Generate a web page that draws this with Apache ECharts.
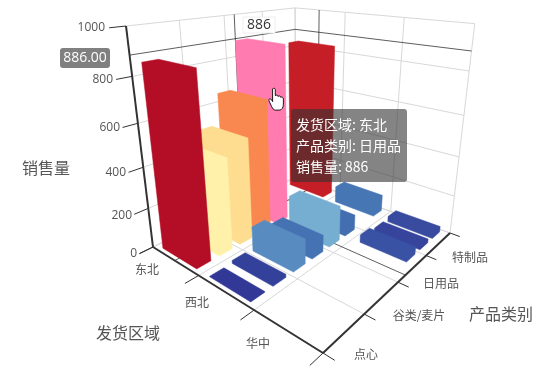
<!DOCTYPE html>
<html><head><meta charset="utf-8">
<style>html,body{margin:0;padding:0;background:#fff}#c{width:560px;height:387px}</style>
<script src="https://cdn.jsdelivr.net/npm/echarts@6/dist/echarts.min.js"></script></head>
<body><div id="c"></div>
<script>
const regions = ['东北','西北','华中'];
const products = ['点心','调味品','谷类/麦片','海鲜','日用品','肉/家禽','特制品','饮料'];
const valueTicks = [0,200,400,600,800,1000];
const eastNorth = [860,450,505,655,886,null,null,830];
const westNorth = [3,15,125,85,180,80,null,90];
const central = [null,null,null,null,null,40,20,30];
const salesByRegion = [eastNorth, westNorth, central];
const axisNames = {x:'发货区域', y:'产品类别', z:'销售量'};
const palette = ['#313695','#4575b4','#74add1','#abd9e9','#f8f8d0','#fff3ad','#fdd484','#fa9a58','#f46d43','#d73027','#a50026'];

// camera: image of the floor corners and the vertical vanishing point
const cam = {A:[153,247],B:[323,353],C:[450,233],D:[296,177],V:[303,1475],topY:26};
function quad(a,b,c,d){
  const dx1=b[0]-c[0],dx2=d[0]-c[0],sx=a[0]-b[0]+c[0]-d[0];
  const dy1=b[1]-c[1],dy2=d[1]-c[1],sy=a[1]-b[1]+c[1]-d[1];
  const det=dx1*dy2-dx2*dy1;
  const g=(sx*dy2-dx2*sy)/det,h=(dx1*sy-sx*dy1)/det;
  return [[b[0]-a[0]+g*b[0],d[0]-a[0]+h*d[0],a[0]],[b[1]-a[1]+g*b[1],d[1]-a[1]+h*d[1],a[1]],[g,h,1]];
}
const H=quad(cam.A,cam.B,cam.C,cam.D);
const k=(H[1][2]-cam.topY*H[2][2])/(cam.topY-cam.V[1]);
function proj(x,y,z){
  const X=H[0][0]*x+H[0][1]*y+H[0][2]+k*z*cam.V[0];
  const Y=H[1][0]*x+H[1][1]*y+H[1][2]+k*z*cam.V[1];
  const W=H[2][0]*x+H[2][1]*y+H[2][2]+k*z;
  return [X/W,Y/W];
}
const nx=regions.length, ny=products.length, zMax=1000;
const FILL_X=0.74, FILL_Y=0.62;

// bars, painted far to near
const barData=[];
regions.forEach((r,i)=>{
  for(let j=ny-1;j>=0;j--){
    const v=salesByRegion[i][j];
    if(v!=null) barData.push([i,j,v,v]);
  }
});
function renderBar(params,api){
  const i=api.value(0),j=api.value(1),v=api.value(2);
  const hi=(i===0&&j===4);
  const color=hi?'#ff7bb0':api.visual('color');
  const x0=(i+(1-FILL_X)/2)/nx,x1=(i+1-(1-FILL_X)/2)/nx;
  const y0=(j+(1-FILL_Y)/2)/ny,y1=(j+1-(1-FILL_Y)/2)/ny;
  const z=v/zMax;
  const p=proj;
  return {type:'polygon',shape:{points:[p(x0,y0,0),p(x1,y0,0),p(x1,y1,0),p(x1,y1,z),p(x0,y1,z),p(x0,y0,z)]},style:{fill:color,stroke:color,lineWidth:0.5}};
}
// walls and floor grid
const gridLines=[];
valueTicks.forEach(t=>{const z=t/zMax;
  gridLines.push([[0,0,z],[0,1,z]],[[0,1,z],[1,1,z]]);});
for(let i=0;i<=nx;i++)gridLines.push([[i/nx,0,0],[i/nx,1,0]],[[i/nx,1,0],[i/nx,1,1]]);
for(let j=0;j<=ny;j+=2)gridLines.push([[0,j/ny,0],[1,j/ny,0]],[[0,j/ny,0],[0,j/ny,1]]);
const dark='#333';
const axisLines=[
  [[0,0,0],[0,0,1]],[[0,0,0],[1,0,0]],[[1,0,0],[1,1,0]]
];
const ticks=[];
valueTicks.forEach(t=>ticks.push([[0,0,t/zMax],[0,-0.07,t/zMax]]));
for(let i=0;i<=nx;i++)ticks.push([[i/nx,0,0],[i/nx,-0.07,0]]);
for(let j=0;j<=ny;j+=2)ticks.push([[1,j/ny,0],[1.05,j/ny,0]]);
// axis pointer for the hovered bar
const pv=886/zMax, py=4.5/ny, px=0.5/nx;
const pointer=[
  [[0,0,pv],[0,1,pv]],[[0,1,pv],[1,1,pv]],
  [[0,py,0],[1,py,0]],[[px,0,0],[px,1,0]],
  [[px,1,0],[px,1,1]],[[0,py,0],[0,py,1]]
];
function lineSeries(data,color,width,z){
  return {type:'custom',coordinateSystem:'none',silent:true,z:z,data:data.map((d,i)=>[i]),
    renderItem:(p,api)=>{const s=data[api.value(0)];
      const a=proj(...s[0]),b=proj(...s[1]);
      return {type:'line',shape:{x1:a[0],y1:a[1],x2:b[0],y2:b[1]},style:{stroke:color,lineWidth:width}};}};
}
const gfx=[];
const font='"Noto Sans CJK SC",sans-serif';
const numFont='"Open Sans",sans-serif';
function label(text,x,y,size,color,align,family){
  return {type:'text',x:x,y:y,z:60,style:{text:text,fontSize:size,fill:color,align:align||'center',verticalAlign:'middle',fontFamily:family||font}};
}
const valueLabelRight=[137,132,126,120,113,105];
const valueLabelY=[254,216,173,128,80,28];
valueTicks.forEach((v,i)=>gfx.push(label(String(v),valueLabelRight[i],valueLabelY[i],12,'#555','right',numFont)));
[[147,269],[197,302],[258,343]].forEach((q,i)=>gfx.push(label(regions[i],q[0],q[1],12,'#555')));
[[366,354],[419,315],[441,283],[470,257]].forEach((q,i)=>gfx.push(label(products[i*2],q[0],q[1],12,'#555')));
gfx.push(label(axisNames.z,46,168,16,'#555'));
gfx.push(label(axisNames.x,128,333,16,'#555'));
gfx.push(label(axisNames.y,501,314,16,'#555'));
// axis pointer value labels
gfx.push({type:'rect',shape:{x:60,y:48,width:50,height:20,r:3},z:60,style:{fill:'#808080'}});
gfx.push(label('886.00',85,58,14,'#fff','center',numFont));
gfx.push({type:'rect',shape:{x:243,y:17,width:32,height:16},z:59,style:{fill:'#fff',stroke:'#eee'}});
gfx.push(label('886',259,25,14,'#333','center',numFont));
// tooltip
gfx.push({type:'rect',shape:{x:291,y:109,width:116,height:73,r:3},z:70,style:{fill:'rgba(50,50,50,0.6)'}});
[['发货区域: 东北',125],['产品类别: 日用品',146],['销售量: 886',167]].forEach(a=>{
  const e=label(a[0],296,a[1],14,'#fff','left');e.z=71;gfx.push(e);});

const handPath='M4 1 C5 0 7 0 7 2 L7 9 C8 8 10 8 10 10 C11 9 13 9 13 11 C14 10 16 11 16 13 L16 19 C16 23 14 26 12 26 L7 26 C5 26 4 24 3 22 L0 15 C-1 13 1 12 3 14 L4 16 Z';
const chart=echarts.init(document.getElementById('c'),null,{renderer:'canvas'});
chart.setOption({
  animation:false,
  backgroundColor:'#fff',
  visualMap:{show:false,min:0,max:886,dimension:3,seriesIndex:4,inRange:{color:palette}},
  graphic:{elements:gfx},
  series:[
    lineSeries(gridLines,'#d8d8d8',1,1),
    lineSeries(pointer,'rgba(40,40,40,0.75)',1,2),
    lineSeries(axisLines,dark,2,3),
    lineSeries(ticks,dark,1,3),
    {type:'custom',coordinateSystem:'none',z:5,data:barData,renderItem:renderBar},
    {type:'custom',coordinateSystem:'none',z:90,silent:true,data:[[0]],renderItem:()=>({type:'path',x:269,y:88,scaleX:0.9,scaleY:0.85,shape:{pathData:handPath},style:{fill:'#fff',stroke:'#000',lineWidth:1}})}
  ]
});
</script></body></html>
